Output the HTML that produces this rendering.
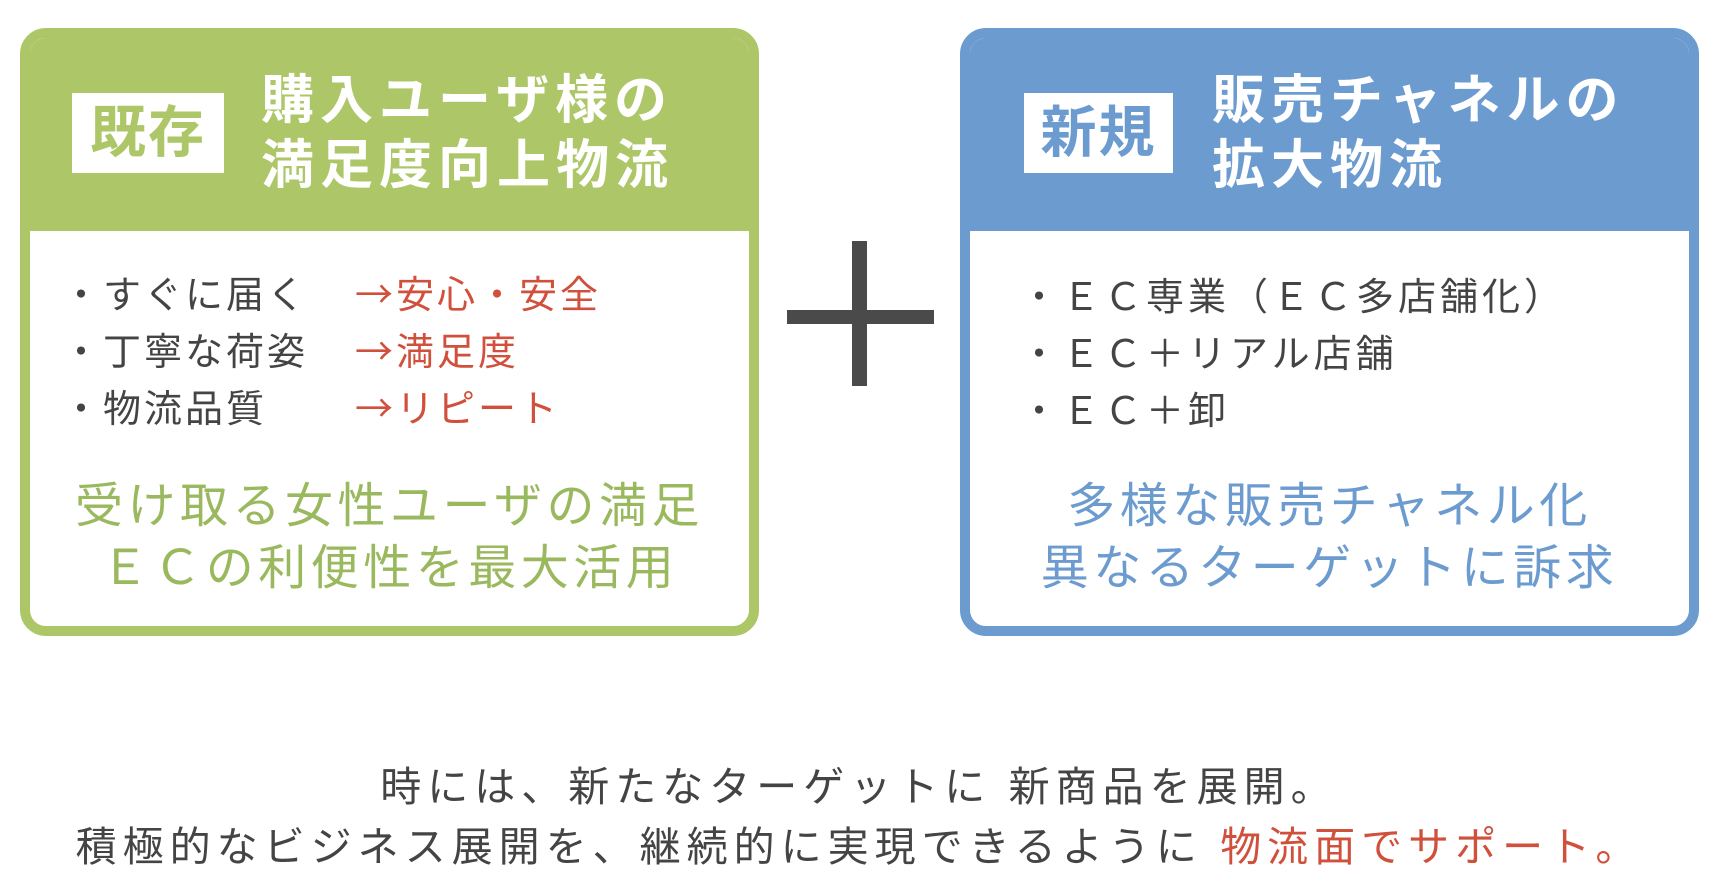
<!DOCTYPE html>
<html><head><meta charset="utf-8"><style>
body{margin:0;width:1718px;height:884px;background:#fff;position:relative;overflow:hidden;font-family:"Liberation Sans","Noto Sans CJK JP",sans-serif;}
.box{position:absolute;top:28px;width:739px;height:608px;box-sizing:border-box;border:10px solid;border-radius:26px;background:#fff;overflow:hidden}
.hdr{position:absolute;left:0;top:0;right:0;height:193px}
.badge{position:absolute;background:#fff;font-weight:bold;font-size:56px;line-height:80px;text-align:center;letter-spacing:2px}
.t{position:absolute;color:#fff;font-weight:bold;font-size:53px;line-height:65px;letter-spacing:6px;white-space:nowrap}
.b{position:absolute;color:#444;font-size:38px;line-height:57px;letter-spacing:3px;white-space:nowrap}
.b div{height:57px;overflow:visible}
.r{color:#d0503c}
.ar{font-family:"Noto Sans CJK JP",sans-serif;line-height:1px}
.c{position:absolute;left:0;right:0;text-align:center;font-size:48px;line-height:62px;letter-spacing:4.5px;white-space:nowrap}
.bar{position:absolute;background:#4a4a4a}
.bot{position:absolute;left:0;right:0;text-align:center;color:#444;font-size:41px;line-height:60px;letter-spacing:6px;white-space:nowrap}
</style></head><body>
<div class="box" style="left:20px;border-color:#adc667">
 <div class="hdr" style="background:#adc667"></div>
 <div class="badge" style="left:42px;top:55px;width:152px;height:80px;color:#adc667">既存</div>
 <div class="t" style="left:231px;top:30px">購入ユーザ様の<br>満足度向上物流</div>
 <div class="b" style="left:32px;top:230px"><div>・すぐに届く</div><div>・丁寧な荷姿</div><div>・物流品質</div></div>
 <div class="b r" style="left:325px;top:230px"><div><span class="ar">→</span>安心・安全</div><div><span class="ar">→</span>満足度</div><div><span class="ar">→</span>リピート</div></div>
 <div class="c" style="top:438px;color:#9ab95e">受け取る女性ユーザの満足<br>ＥＣの利便性を最大活用</div>
</div>
<div class="bar" style="left:787px;top:310px;width:147px;height:14px"></div>
<div class="bar" style="left:852px;top:241px;width:15px;height:145px"></div>
<div class="box" style="left:960px;border-color:#6b9bcf">
 <div class="hdr" style="background:#6b9bcf"></div>
 <div class="badge" style="left:54px;top:55px;width:149px;height:80px;color:#6b9bcf">新規</div>
 <div class="t" style="left:242px;top:30px">販売チャネルの<br>拡大物流</div>
 <div class="b" style="left:50px;top:232px;letter-spacing:4px">・ＥＣ専業（ＥＣ多店舗化）<br>・ＥＣ＋リアル店舗<br>・ＥＣ＋卸</div>
 <div class="c" style="top:438px;color:#6b9bcf">多様な販売チャネル化<br>異なるターゲットに訴求</div>
</div>
<div class="bot" style="top:757px">時には、新たなターゲットに 新商品を展開。<br>積極的なビジネス展開を、継続的に実現できるように <span class="r">物流面でサポート。</span></div>
</body></html>
